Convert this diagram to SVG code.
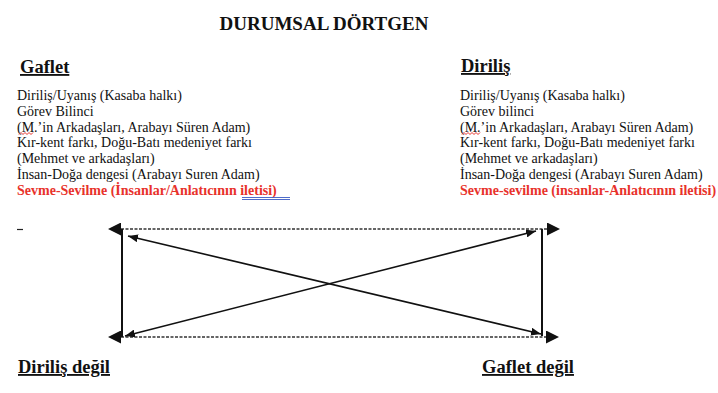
<svg xmlns="http://www.w3.org/2000/svg" width="718" height="393" viewBox="0 0 718 393">
<style>
.t{font-family:"Liberation Serif","Times New Roman",serif;fill:#111}
.title{font-size:19px;font-weight:bold}
.head{font-size:18.5px;font-weight:bold;text-decoration:underline}
.body{font-size:14px}
.red{font-size:14px;font-weight:bold;fill:#e8322b}
.solid{stroke:#111;stroke-width:2;fill:none}
.diag{stroke:#111;stroke-width:1.6;fill:none}
.dash{stroke:#333;stroke-width:1.5;stroke-dasharray:3 1.5;fill:none}
.squig{stroke:#e8322b;stroke-width:1;fill:none}
</style>
<defs>
<marker id="big" markerUnits="userSpaceOnUse" markerWidth="13" markerHeight="13" refX="0" refY="6.5" orient="auto-start-reverse">
<path d="M0,0 L13,6.5 L0,13 z" fill="#111"/>
</marker>
<marker id="small" markerUnits="userSpaceOnUse" markerWidth="11" markerHeight="8" refX="10" refY="4" orient="auto-start-reverse">
<path d="M0,0 L10,4 L0,8 z" fill="#111"/>
</marker>
</defs>
<rect width="718" height="393" fill="#fff"/>

<g id="title">
<text class="t title" x="324" y="30" text-anchor="middle">DURUMSAL DÖRTGEN</text>
</g>

<g id="gaflet">
<text class="t head" x="20" y="73">Gaflet</text>
<text class="t body" x="17" y="100">Diriliş/Uyanış (Kasaba halkı)</text>
<text class="t body" x="17" y="115.8">Görev Bilinci</text>
<text class="t body" x="17" y="131.6">(M.’in Arkadaşları, Arabayı Süren Adam)</text>
<path class="squig" d="M19,134.5 l2,-2 l2,2 l2,-2 l2,2 l2,-2 l2,2 l2,-2"/>
<text class="t body" x="17" y="147.4">Kır-kent farkı, Doğu-Batı medeniyet farkı</text>
<text class="t body" x="17" y="163.2">(Mehmet ve arkadaşları)</text>
<text class="t body" x="17" y="179">İnsan-Doğa dengesi (Arabayı Suren Adam)</text>
<text class="t red" x="17" y="194.8">Sevme-Sevilme (İnsanlar/Anlatıcının iletisi)</text>
<path d="M242,197.5 H290 M242,199.5 H290" stroke="#3b5bc4" stroke-width="0.9" fill="none"/>
</g>

<g id="dirilis">
<text class="t head" x="461" y="72">Diriliş</text>
<text class="t body" x="460" y="100">Diriliş/Uyanış (Kasaba halkı)</text>
<text class="t body" x="460" y="115.8">Görev bilinci</text>
<text class="t body" x="460" y="131.6">(M.’in Arkadaşları, Arabayı Süren Adam)</text>
<path class="squig" d="M462,134.5 l2,-2 l2,2 l2,-2 l2,2 l2,-2 l2,2 l2,-2 l2,2 l2,-2"/>
<text class="t body" x="460" y="147.4">Kır-kent farkı, Doğu-Batı medeniyet farkı</text>
<text class="t body" x="460" y="163.2">(Mehmet ve arkadaşları)</text>
<text class="t body" x="460" y="179">İnsan-Doğa dengesi (Arabayı Suren Adam)</text>
<text class="t red" x="460" y="194.8">Sevme-sevilme (insanlar-Anlatıcının iletisi)</text>
</g>

<g id="dirilis-degil">
<text class="t head" x="18" y="373">Diriliş değil</text>
</g>

<g id="gaflet-degil">
<text class="t head" x="482" y="373">Gaflet değil</text>
</g>

<line x1="17" y1="229.5" x2="23" y2="229.5" stroke="#222" stroke-width="1.2"/>

<g id="connectors">
<line class="dash" x1="121" y1="229" x2="547" y2="229" marker-start="url(#big)" marker-end="url(#big)"/>
<line class="dash" x1="121" y1="337" x2="546" y2="337" marker-start="url(#big)" marker-end="url(#big)"/>
<line class="solid" x1="122" y1="229" x2="122" y2="337"/>
<line class="solid" x1="542" y1="229" x2="542" y2="336"/>
<line class="diag" x1="128" y1="236" x2="541" y2="334" marker-start="url(#small)" marker-end="url(#small)"/>
<line class="diag" x1="125" y1="336" x2="536" y2="231" marker-start="url(#small)" marker-end="url(#small)"/>
</g>
</svg>
